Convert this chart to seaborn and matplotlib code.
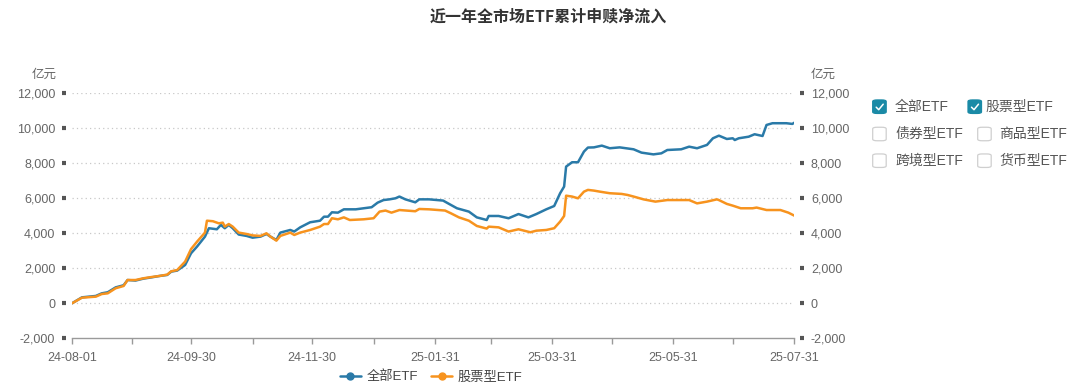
import pandas as pd
import seaborn as sns
import matplotlib.pyplot as plt
import matplotlib.dates as mdates
from matplotlib.lines import Line2D
from matplotlib.patches import FancyBboxPatch
from matplotlib.ticker import FuncFormatter

# cumulative net inflow (亿元)
all_dates = [
    "2024-08-01", "2024-08-06", "2024-08-13", "2024-08-16", "2024-08-19", "2024-08-23",
    "2024-08-27", "2024-08-29", "2024-09-02", "2024-09-06", "2024-09-10", "2024-09-14",
    "2024-09-18", "2024-09-20", "2024-09-23", "2024-09-27", "2024-09-30", "2024-10-03",
    "2024-10-07", "2024-10-09", "2024-10-13", "2024-10-15", "2024-10-17", "2024-10-19",
    "2024-10-21", "2024-10-24", "2024-10-28", "2024-10-31", "2024-11-04", "2024-11-07",
    "2024-11-09", "2024-11-12", "2024-11-14", "2024-11-19", "2024-11-21", "2024-11-24",
    "2024-11-29", "2024-12-04", "2024-12-06", "2024-12-08", "2024-12-10", "2024-12-13",
    "2024-12-16", "2024-12-22", "2024-12-26", "2024-12-30", "2025-01-02", "2025-01-05",
    "2025-01-08", "2025-01-11", "2025-01-13", "2025-01-16", "2025-01-21", "2025-01-23",
    "2025-01-28", "2025-02-04", "2025-02-07", "2025-02-11", "2025-02-17", "2025-02-21",
    "2025-02-26", "2025-02-27", "2025-03-04", "2025-03-09", "2025-03-14", "2025-03-19",
    "2025-03-23", "2025-03-28", "2025-04-01", "2025-04-04", "2025-04-06", "2025-04-07",
    "2025-04-10", "2025-04-13", "2025-04-16", "2025-04-18", "2025-04-21", "2025-04-25",
    "2025-04-29", "2025-05-04", "2025-05-11", "2025-05-15", "2025-05-21", "2025-05-25",
    "2025-05-28", "2025-06-04", "2025-06-08", "2025-06-12", "2025-06-17", "2025-06-20",
    "2025-06-23", "2025-06-27", "2025-06-30", "2025-07-01", "2025-07-03", "2025-07-08",
    "2025-07-11", "2025-07-15", "2025-07-17", "2025-07-20", "2025-07-27", "2025-07-30",
    "2025-07-31",
]
all_vals = [
    0, 340, 420, 570, 630, 910,
    1030, 1330, 1300, 1410, 1480, 1560,
    1620, 1810, 1870, 2190, 2860, 3240,
    3810, 4290, 4230, 4480, 4290, 4480,
    4290, 3930, 3850, 3750, 3810, 3960,
    3810, 3620, 4040, 4190, 4100, 4340,
    4630, 4720, 4950, 4950, 5200, 5180,
    5370, 5370, 5430, 5490, 5750, 5900,
    5940, 6000, 6100, 5940, 5770, 5940,
    5940, 5870, 5680, 5430, 5240, 4910,
    4760, 4990, 4990, 4860, 5100, 4910,
    5100, 5370, 5560, 6290, 6670, 7810,
    8060, 8060, 8670, 8900, 8910, 9010,
    8860, 8910, 8800, 8610, 8510, 8570,
    8760, 8800, 8950, 8860, 9050, 9430,
    9580, 9390, 9430, 9330, 9430, 9520,
    9660, 9560, 10190, 10290, 10290, 10250,
    10320,
]

stock_dates = [
    "2024-08-01", "2024-08-06", "2024-08-13", "2024-08-16", "2024-08-19", "2024-08-23",
    "2024-08-27", "2024-08-29", "2024-09-02", "2024-09-06", "2024-09-10", "2024-09-14",
    "2024-09-18", "2024-09-20", "2024-09-23", "2024-09-27", "2024-09-30", "2024-10-03",
    "2024-10-07", "2024-10-08", "2024-10-11", "2024-10-14", "2024-10-16", "2024-10-17",
    "2024-10-19", "2024-10-21", "2024-10-24", "2024-10-28", "2024-10-31", "2024-11-04",
    "2024-11-07", "2024-11-09", "2024-11-12", "2024-11-14", "2024-11-19", "2024-11-21",
    "2024-11-24", "2024-11-29", "2024-12-04", "2024-12-06", "2024-12-08", "2024-12-10",
    "2024-12-13", "2024-12-16", "2024-12-19", "2024-12-26", "2024-12-31", "2025-01-03",
    "2025-01-06", "2025-01-09", "2025-01-13", "2025-01-21", "2025-01-23", "2025-01-28",
    "2025-02-05", "2025-02-08", "2025-02-12", "2025-02-17", "2025-02-21", "2025-02-26",
    "2025-02-27", "2025-03-04", "2025-03-09", "2025-03-14", "2025-03-20", "2025-03-23",
    "2025-03-28", "2025-04-01", "2025-04-04", "2025-04-06", "2025-04-07", "2025-04-10",
    "2025-04-13", "2025-04-16", "2025-04-18", "2025-04-21", "2025-04-24", "2025-04-29",
    "2025-05-05", "2025-05-08", "2025-05-11", "2025-05-16", "2025-05-22", "2025-05-28",
    "2025-06-08", "2025-06-12", "2025-06-17", "2025-06-22", "2025-06-23", "2025-06-27",
    "2025-06-30", "2025-07-04", "2025-07-10", "2025-07-12", "2025-07-17", "2025-07-24",
    "2025-07-28", "2025-07-31",
]
stock_vals = [
    0, 320, 380, 530, 570, 860,
    990, 1330, 1330, 1430, 1500, 1560,
    1640, 1830, 1900, 2380, 3100, 3520,
    4040, 4720, 4690, 4570, 4610, 4380,
    4530, 4380, 4040, 3960, 3880, 3850,
    4000, 3810, 3580, 3850, 4040, 3905,
    4040, 4190, 4380, 4530, 4530, 4860,
    4800, 4910, 4760, 4800, 4860, 5240,
    5300, 5180, 5330, 5260, 5390, 5370,
    5300, 5140, 4910, 4720, 4420, 4270,
    4380, 4340, 4100, 4230, 4060, 4150,
    4190, 4290, 4670, 4990, 6150, 6100,
    6000, 6380, 6480, 6440, 6380, 6290,
    6250, 6190, 6100, 5940, 5810, 5900,
    5900, 5710, 5810, 5940, 5900, 5680,
    5580, 5430, 5430, 5470, 5330, 5330,
    5180, 5010,
]

series_names = ["全部ETF", "股票型ETF"]
series_colors = ["#2a7aa8", "#f7931e"]
y_ticks = [-2000, 0, 2000, 4000, 6000, 8000, 10000, 12000]
label_dates = ["2024-08-01", "2024-09-30", "2024-11-30", "2025-01-31",
               "2025-03-31", "2025-05-31", "2025-07-31"]
minor_dates = ["2024-08-31", "2024-10-31", "2024-12-31", "2025-02-28",
               "2025-04-30", "2025-06-30"]
option_rows = [["全部ETF", "股票型ETF"], ["债券型ETF", "商品型ETF"], ["跨境型ETF", "货币型ETF"]]
option_checked = [[True, True], [False, False], [False, False]]

df = pd.concat([
    pd.DataFrame({"date": pd.to_datetime(all_dates), "value": all_vals, "series": series_names[0]}),
    pd.DataFrame({"date": pd.to_datetime(stock_dates), "value": stock_vals, "series": series_names[1]}),
])

sns.set_theme(style="white")
plt.rcParams["font.family"] = ["Liberation Sans", "Noto Sans CJK SC", "DejaVu Sans"]

W, H = 1080, 392
fig = plt.figure(figsize=(W / 100, H / 100), dpi=100)
ax = fig.add_axes([72 / W, 1 - 338.3 / H, (794.3 - 72) / W, (338.3 - 93.3) / H])

sns.lineplot(data=df, x="date", y="value", hue="series", hue_order=series_names,
             palette=series_colors, linewidth=1.8, ax=ax, legend=False, sort=True)

ax.set_xlim(pd.Timestamp(label_dates[0]), pd.Timestamp(label_dates[-1]))
ax.set_ylim(y_ticks[0], y_ticks[-1])
ax.set_xlabel("")
ax.set_ylabel("")

# axes styling: hidden side spines pushed out so the square ticks sit apart from the plot
ax.spines["left"].set_position(("outward", 4))
ax.spines["right"].set_position(("outward", 4))
for side in ["left", "right", "top"]:
    ax.spines[side].set_visible(False)
ax.spines["bottom"].set_color("#9a9a9a")
ax.spines["bottom"].set_linewidth(1)

ax.set_yticks(y_ticks)
ax.yaxis.set_major_formatter(FuncFormatter(lambda v, p: f"{v:,.0f}"))
ax.tick_params(axis="y", which="both", left=True, right=True, labelleft=True, labelright=True,
               length=3, width=3, color="#555555", labelsize=9, labelcolor="#666666", pad=5)
for y in y_ticks[1:]:
    ax.axhline(y, color="#c8c8c8", linewidth=0.9, linestyle=(0, (1, 2.5)), zorder=0)

ax.set_xticks(pd.to_datetime(label_dates))
ax.set_xticks(pd.to_datetime(minor_dates), minor=True)
ax.xaxis.set_major_formatter(mdates.DateFormatter("%y-%m-%d"))
ax.tick_params(axis="x", which="both", bottom=True, direction="out", length=4, width=1,
               color="#9a9a9a", labelsize=9, labelcolor="#666666", pad=6)

ax.text(-0.021, 1.075, "亿元", transform=ax.transAxes, ha="right", va="center",
        fontsize=9, color="#666666")
ax.text(1.022, 1.075, "亿元", transform=ax.transAxes, ha="left", va="center",
        fontsize=9, color="#666666")

fig.text(548 / W, 1 - 17 / H, "近一年全市场ETF累计申赎净流入", ha="center", va="center",
         fontsize=11.5, fontweight="bold", color="#333333", family=["Noto Sans CJK SC"])

# bottom legend
handles = [Line2D([0], [0], color=c, linewidth=1.8, marker="o", markersize=5)
           for c in series_colors]
fig.legend(handles, series_names, loc="center", bbox_to_anchor=(431 / W, 1 - 377 / H),
           ncol=2, frameon=False, fontsize=9.5, handlelength=1.6, handletextpad=0.4,
           columnspacing=1.0, labelcolor="#444444")

# checkbox panel on the right
box_x = [[872.7, 968], [872.7, 977.7], [872.7, 977.7]]
text_x = [[895, 985], [895, 999], [895, 999]]
row_y = [106.7, 134, 160.7]
size = 13.5
for r, row in enumerate(option_rows):
    for c, name in enumerate(row):
        checked = option_checked[r][c]
        bx, tx, cy = box_x[r][c], text_x[r][c], row_y[r]
        patch = FancyBboxPatch((bx / W, 1 - (cy + size / 2) / H), size / W, size / H,
                               boxstyle="round,pad=0,rounding_size=0.004",
                               transform=fig.transFigure,
                               facecolor="#1a8aa6" if checked else "white",
                               edgecolor="#1a8aa6" if checked else "#cfcfcf", linewidth=0.9)
        fig.add_artist(patch)
        if checked:
            fig.add_artist(Line2D([(bx + 3.5) / W, (bx + 6) / W, (bx + 10.5) / W],
                                  [1 - (cy + 0.5) / H, 1 - (cy + 3) / H, 1 - (cy - 2.5) / H],
                                  transform=fig.transFigure, color="white", linewidth=1.1))
        fig.text(tx / W, 1 - cy / H, name, ha="left", va="center", fontsize=10,
                 color="#555555")

fig.savefig("out.png", dpi=100)
